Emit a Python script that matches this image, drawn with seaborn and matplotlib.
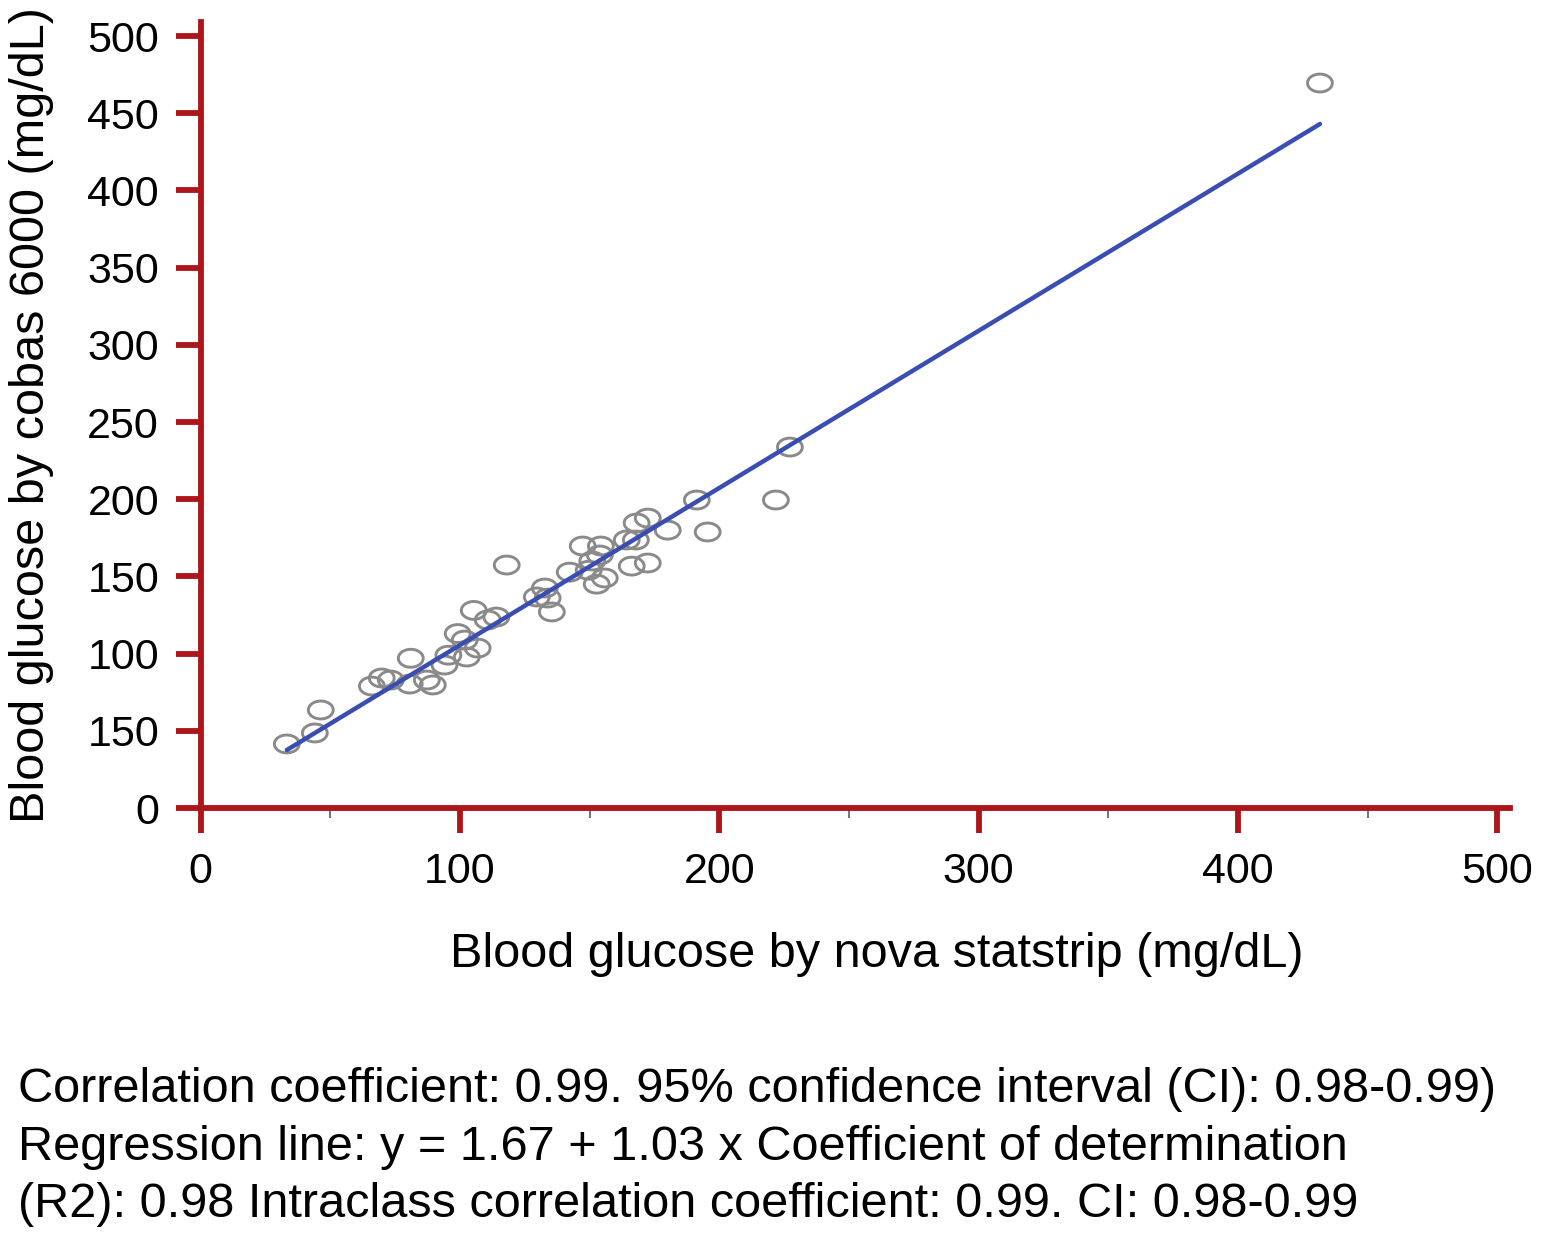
import numpy as np
import pandas as pd
import matplotlib
matplotlib.use("Agg")
import matplotlib.pyplot as plt
from matplotlib.path import Path
import seaborn as sns

# ── Data ───────────────────────────────────────
nova = [33.2, 44.0, 46.3, 66.0, 69.8, 73.3, 81.0, 80.6, 87.2, 89.5,
        94.0, 95.5, 99.1, 101.8, 102.6, 105.3, 106.8, 110.7, 114.0, 118.0,
        129.6, 132.7, 133.8, 135.4, 142.3, 147.3, 149.6, 152.7, 153.9, 154.3,
        155.8, 151.0, 164.3, 167.8, 166.2, 172.4, 168.1, 172.4, 180.1, 191.3,
        195.5, 221.8, 227.2, 431.6]
cobas = [41.5, 48.6, 63.5, 79.0, 84.2, 82.9, 97.0, 80.3, 82.9, 79.7,
         92.6, 99.0, 113.0, 108.8, 97.8, 128.0, 103.6, 121.8, 123.7, 157.4,
         136.7, 142.5, 136.0, 127.0, 152.8, 169.7, 154.0, 145.0, 163.9, 169.7,
         149.0, 160.0, 173.6, 173.6, 156.7, 158.7, 184.6, 187.8, 180.0, 199.5,
         178.8, 199.5, 233.8, 469.6]

y_ticks = [0, 50, 100, 150, 200, 250, 300, 350, 400, 450, 500]
y_tick_labels = ["0", "150", "100", "150", "200", "250", "300", "350", "400", "450", "500"]
x_ticks = [0, 100, 200, 300, 400, 500]
x_minor = [50, 150, 250, 350, 450]

caption = [
    "Correlation coefficient: 0.99. 95% confidence interval (CI): 0.98-0.99)",
    "Regression line: y = 1.67 + 1.03 x Coefficient of determination",
    "(R2): 0.98 Intraclass correlation coefficient: 0.99. CI: 0.98-0.99",
]

df = pd.DataFrame({"nova": nova, "cobas": cobas})

# ── Styling ─────────────────────────────────
sns.set_theme(style="ticks")
plt.rcParams["font.family"] = ["Liberation Sans", "DejaVu Sans"]
plt.rcParams["text.color"] = "black"
plt.rcParams["axes.labelcolor"] = "black"

AXIS_RED = "#ad151b"

# slightly flattened open circle, like the original export
t = np.linspace(0, 2 * np.pi, 60)
ellipse = Path(np.column_stack([np.cos(t), 0.72 * np.sin(t)]), closed=True)

fig = plt.figure(figsize=(15.56, 12.34), dpi=100)
ax = fig.add_axes([0.129, 0.3452, 0.8416, 0.6368])

sns.scatterplot(data=df, x="nova", y="cobas", ax=ax, marker=ellipse, s=320,
                facecolor="none", edgecolor="#8a8a8a", linewidth=2.1, zorder=2)
sns.regplot(data=df, x="nova", y="cobas", ax=ax, scatter=False, ci=None,
            truncate=True, line_kws={"color": "#3a4db3", "linewidth": 3.2})

ax.set_xlim(0, 505)
ax.set_ylim(0, 509)

for side in ["top", "right"]:
    ax.spines[side].set_visible(False)
for side in ["left", "bottom"]:
    ax.spines[side].set_color(AXIS_RED)
    ax.spines[side].set_linewidth(4.2)

ax.set_yticks(y_ticks)
ax.set_yticklabels(y_tick_labels)
ax.set_xticks(x_ticks)
ax.set_xticks(x_minor, minor=True)

ax.tick_params(axis="both", which="major", bottom=True, left=True, color=AXIS_RED,
               length=18, width=4.2, labelsize=31, labelcolor="black", direction="out")
ax.tick_params(axis="x", which="major", pad=14)
ax.tick_params(axis="y", which="major", pad=12)
ax.tick_params(axis="x", which="minor", bottom=True, direction="out", length=7,
               width=1.5, color="#777777")

ax.set_xlabel("Blood glucose by nova statstrip (mg/dL)", fontsize=35)
ax.xaxis.set_label_coords(0.516, -0.158)
ax.set_ylabel("Blood glucose by cobas 6000 (mg/dL)", fontsize=35)
ax.yaxis.set_label_coords(-0.112, 0.5)

for line, yb in zip(caption, [0.107, 0.060, 0.0138]):
    fig.text(0.0116, yb, line, fontsize=35, va="baseline", ha="left")

fig.savefig("out.png", dpi=100)
